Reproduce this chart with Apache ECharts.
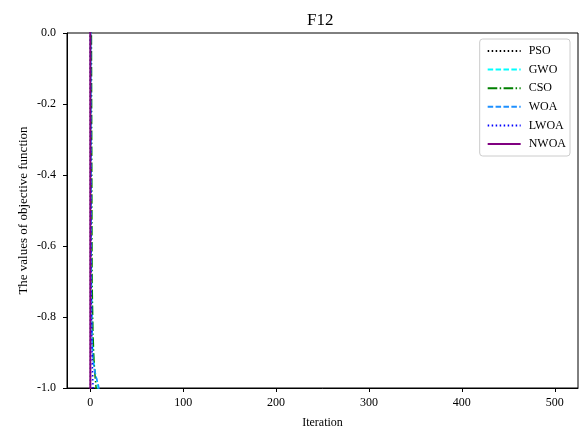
<!DOCTYPE html>
<html><head><meta charset="utf-8">
<script src="https://cdn.jsdelivr.net/npm/echarts@6/dist/echarts.min.js"></script>
<style>html,body{margin:0;padding:0;background:#fff}#c{width:585px;height:428px}</style>
</head><body><div id="c"></div>
<script>
var iters = [0,1,2,3,4,5,6,7,8,9,10,11,12,500];
var PSO  = [0.5,-5,-6,-7,-7.5,-8,-8.5,-9,-9.2,-9.4,-9.6,-9.8,-10,-12];
var GWO  = [0.5,-0.6,-0.85,-0.9,-0.93,-0.95,-0.965,-0.975,-0.99,-1.02,-1.05,-1.08,-1.1,-1.3];
var CSO  = [0.8,0.3,-0.7,-0.85,-0.92,-0.96,-0.99,-1.02,-1.05,-1.07,-1.09,-1.1,-1.12,-1.3];
var WOA  = [0.5,-0.7,-0.88,-0.92,-0.94,-0.955,-0.965,-0.975,-0.985,-0.995,-1.01,-1.05,-1.1,-1.3];
var LWOA = [0.4,-0.72,-0.9,-1.0,-1.05,-1.1,-1.12,-1.14,-1.16,-1.18,-1.2,-1.22,-1.24,-1.4];
var NWOA = [3,-30,-35,-38,-40,-41,-42,-43,-44,-45,-46,-47,-48,-50];
var xTicks = [0,100,200,300,400,500];
var yTicks = [0,-0.2,-0.4,-0.6,-0.8,-1.0];

function pairs(v){ return iters.map(function(x,i){ return [x, v[i]]; }); }
var F = 'Liberation Serif, Times New Roman, serif';
var defs = [
  ['PSO', PSO, '#000000', [1.5,2.5], 1.5],
  ['GWO', GWO, '#00FFFF', [5.5,2.4], 1.5],
  ['CSO', CSO, '#008000', [9.6,2.4,1.5,2.4], 1.5],
  ['WOA', WOA, '#1E90FF', [5.5,2.4], 1.5],
  ['LWOA', LWOA, '#0000FF', [1.5,2.5], 1.5],
  ['NWOA', NWOA, '#800080', 'solid', 2]
];
var series = defs.map(function(d){
  return {name:d[0], type:'line', data:pairs(d[1]), showSymbol:false, symbol:'none',
    clip:true, animation:false, color:d[2],
    lineStyle:{color:d[2], width:d[4], type:d[3]}};
});
var chart = echarts.init(document.getElementById('c'));
chart.setOption({
  backgroundColor:'#fff',
  animation:false,
  title:{text:'F12', left:302, top:7,
    textStyle:{fontFamily:F, fontSize:17, fontWeight:'normal', color:'#000'}},
  grid:{left:67, right:7, top:33, bottom:40, show:true, borderColor:'#000', borderWidth:1,
    containLabel:false, outerBoundsMode:'none'},
  legend:{orient:'vertical', right:15, top:39, itemWidth:33, itemHeight:12, itemGap:6.6,
    padding:[6,4,6,7], borderColor:'#ccc', borderWidth:1, borderRadius:3, backgroundColor:'#fff',
    itemStyle:{opacity:0},
    textStyle:{fontFamily:F, fontSize:12, color:'#000', padding:[0,0,0,3]},
    data:defs.map(function(d){return d[0];})},
  xAxis:{type:'value', min:-25, max:525,
    name:'Iteration', nameLocation:'middle', nameGap:29, nameMoveOverlap:false,
    nameTextStyle:{fontFamily:F, fontSize:12, color:'#000'},
    axisLine:{show:true, onZero:false, lineStyle:{color:'#000'}},
    axisTick:{show:true, length:4, lineStyle:{color:'#000'}, customValues:xTicks},
    axisLabel:{fontFamily:F, fontSize:12, color:'#000', margin:9, customValues:xTicks},
    splitLine:{show:false}},
  yAxis:{type:'value', min:-1, max:0,
    name:'The values of objective function', nameLocation:'middle', nameGap:37, nameRotate:90,
    nameMoveOverlap:false,
    nameTextStyle:{fontFamily:F, fontSize:13, color:'#000'},
    axisLine:{show:true, onZero:false, lineStyle:{color:'#000'}},
    axisTick:{show:true, length:4, lineStyle:{color:'#000'}, customValues:yTicks},
    axisLabel:{fontFamily:F, fontSize:12, color:'#000', margin:11, customValues:yTicks,
      formatter:function(v){ return v.toFixed(1); }},
    splitLine:{show:false}},
  series:series
});
</script></body></html>
